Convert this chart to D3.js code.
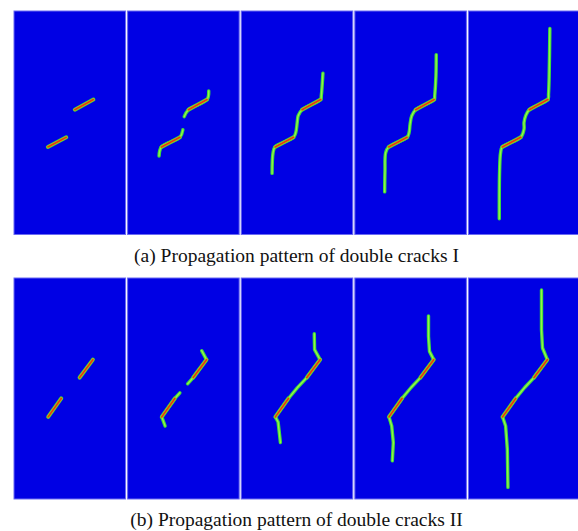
<!DOCTYPE html>
<html>
<head>
<meta charset="utf-8">
<script src="https://cdn.jsdelivr.net/npm/d3@7"></script>
<style>
  html, body { margin: 0; padding: 0; background: #ffffff; }
  svg { display: block; }
</style>
</head>
<body>
<svg id="chart" width="578" height="531"></svg>
<script>
// ---------- DATA (model coordinates: x 0-112, y 0-222, y measured downward from panel top) ----------
const stages = [1, 2, 3, 4, 5];
const captions = ["(a) Propagation pattern of double cracks I", "(b) Propagation pattern of double cracks II"];

// Initial (pre-existing) cracks, per row
const initialCracksI  = [[[60.5, 98], [79, 88]], [[33.7, 135], [52, 125.5]]];
const initialCracksII = [[[65.3, 100], [78.5, 82]], [[34, 139.5], [47, 121]]];

// Propagated crack paths, row I, per stage
const pathsI = [
  [],
  [[[56.3, 105], [60.5, 98], [79, 88], [80.7, 79.3]],
   [[31.3, 144], [33.7, 135], [52, 125.5], [55, 118]]],
  [[[81.3, 61.7], [79.7, 84], [79, 88], [60.5, 98], [56.7, 104], [55.7, 110.7], [54.3, 120.7], [52, 125.5], [33.7, 135], [31.7, 140.7], [30.7, 161.3]]],
  [[[81, 43.3], [80.7, 65], [79.5, 84], [79, 88], [60.5, 98], [56.7, 104], [55, 112.3], [54, 120.7], [52, 125.5], [33.7, 135], [30.7, 140.7], [30, 159], [29.7, 179.7]]],
  [[[81, 17.3], [80.3, 65.7], [79.7, 82.3], [79, 88], [60.5, 98], [57, 104], [55.3, 110.7], [55.3, 117.3], [52, 125.5], [33.7, 135], [32, 140.7], [31, 159], [30.7, 206.3]]]
];

// Propagated crack paths, row II, per stage
const pathsII = [
  [],
  [[[73.7, 73], [78.5, 82], [65.3, 100], [59.7, 106.3]],
   [[52, 115.3], [47, 121], [34, 139.5], [37.3, 148.7]]],
  [[[72.7, 56], [73, 72], [78.5, 82], [65.3, 100], [55.7, 110.3], [47, 121], [34, 139.5], [36.7, 144.7], [39, 165.3]]],
  [[[73.3, 38], [73.3, 58.7], [74.3, 73.7], [78.5, 82], [65.3, 100], [56, 110], [47, 121], [34, 139.5], [36.7, 148.7], [38.3, 165.3], [37.3, 183.7]]],
  [[[72.7, 12], [72.7, 52], [73.7, 70.3], [78.5, 82], [65.3, 100], [56, 110], [47, 121], [34, 139.5], [37, 148.7], [38.7, 172], [39.3, 210.3]]]
];

// ---------- LAYOUT ----------
const svg = d3.select("#chart");
const rows = [
  { top: 11, bottom: 234.5, initial: initialCracksI, paths: pathsI, caption: captions[0], capY: 261.5,
    curve: d3.curveCatmullRom.alpha(0.5) },
  { top: 278, bottom: 499, initial: initialCracksII, paths: pathsII, caption: captions[1], capY: 526,
    curve: d3.curveLinear }
];

const band = d3.scaleBand().domain(stages).range([14, 580]).paddingInner(0.018).paddingOuter(0);

const xModel = d3.scaleLinear().domain([0, 112]);
const yModel = d3.scaleLinear().domain([0, 222]);

rows.forEach(row => {
  const g = svg.append("g");
  stages.forEach((s, i) => {
    const x0 = band(s);
    const w = band.bandwidth();
    const xs = xModel.copy().range([x0, x0 + 112 * (w / 111)]);
    const ys = yModel.copy().range([row.top, row.bottom]);

    const pg = g.append("g");
    pg.append("rect")
      .attr("x", x0).attr("y", row.top)
      .attr("width", w).attr("height", row.bottom - row.top)
      .attr("fill", "#0000e4")
      .attr("stroke", "#6b6bf2").attr("stroke-width", 1);

    const smooth = d3.line().x(d => xs(d[0])).y(d => ys(d[1])).curve(row.curve);
    const straight = d3.line().x(d => xs(d[0])).y(d => ys(d[1]));

    const propagated = row.paths[i];
    propagated.forEach(p => {
      pg.append("path").attr("d", smooth(p))
        .attr("fill", "none").attr("stroke", "#3cdc3c").attr("stroke-width", 3.4)
        .attr("stroke-linecap", "round").attr("stroke-linejoin", "round");
    });
    row.initial.forEach(c => {
      pg.append("path").attr("d", straight(c))
        .attr("fill", "none").attr("stroke", "#3cdc3c").attr("stroke-width", 4)
        .attr("stroke-linecap", "round");
    });
    propagated.forEach(p => {
      pg.append("path").attr("d", smooth(p))
        .attr("fill", "none").attr("stroke", "#9af04a").attr("stroke-width", 1.3)
        .attr("stroke-linecap", "round").attr("stroke-linejoin", "round");
    });
    row.initial.forEach(c => {
      pg.append("path").attr("d", straight(c))
        .attr("fill", "none").attr("stroke", "#c8b020").attr("stroke-width", 2.6)
        .attr("stroke-linecap", "round");
      pg.append("path").attr("d", straight(c))
        .attr("fill", "none").attr("stroke", "#e2400e").attr("stroke-width", 1.7)
        .attr("stroke-linecap", "round");
    });
  });

  svg.append("text")
    .attr("x", 296.5).attr("y", row.capY)
    .attr("text-anchor", "middle")
    .attr("font-family", "'Liberation Serif', 'Times New Roman', serif")
    .attr("font-size", 19.5)
    .attr("fill", "#111")
    .text(row.caption);
});
</script>
</body>
</html>
